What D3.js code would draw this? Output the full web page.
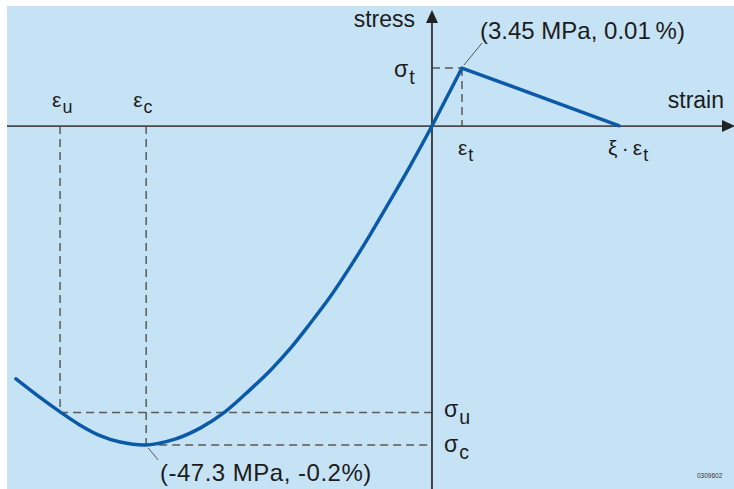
<!DOCTYPE html>
<html>
<head>
<meta charset="utf-8">
<script src="https://cdn.jsdelivr.net/npm/d3@7"></script>
<style>
  body { margin: 0; background: #fff; }
  svg { display: block; font-family: "Liberation Sans", Arial, sans-serif; }
</style>
</head>
<body>
<svg id="chart" width="734" height="489"></svg>
<script>
// schematic units: strain in multiples of eps_t, stress in multiples of sigma_t
const epsT = 1, sigT = 1, xiEpsT = 6.27;
const epsC = -9.53, sigC = -5.5;
const epsU = -12.4, sigU = -4.94;

// tension branch: origin -> peak -> softening end
const tensionStrain = [0, epsT, xiEpsT];
const tensionStress = [0, sigT, 0];

// compression branch, from origin going left
const compStrain = [0, -0.73, -1.4, -2.07, -2.73, -3.4, -4.07, -4.73, -5.4, -6.07, -6.9, -7.73, -8.57, -9.53, -10.4, -11.07, -11.73, -12.4, -13.07, -13.87];
const compStress = [0, -0.69, -1.29, -1.88, -2.43, -2.95, -3.41, -3.84, -4.22, -4.55, -4.93, -5.21, -5.4, -5.5, -5.45, -5.34, -5.16, -4.93, -4.68, -4.36];

const svg = d3.select("#chart");
const W = 734, H = 489;

const x = d3.scaleLinear().domain([-14.17, 10.07]).range([7, 734]);
const y = d3.scaleLinear().domain([2.07, -6.26]).range([6, 489]);

// background panel
svg.append("rect")
  .attr("x", 7).attr("y", 6)
  .attr("width", W - 7).attr("height", H - 6)
  .attr("fill", "#c6e3f6")

const axisCol = "#4a4a4a";
const dashCol = "#5a5a5a";
const textCol = "#1c1c1c";

// dashed guide lines
const guides = [
  [[0, sigT], [epsT, sigT]],
  [[epsT, sigT], [epsT, 0]],
  [[epsU, 0], [epsU, sigU]],
  [[epsU, sigU], [0, sigU]],
  [[epsC, 0], [epsC, sigC]],
  [[epsC, sigC], [0, sigC]]
];
guides.forEach((g) => {
  svg.append("line")
    .attr("x1", x(g[0][0])).attr("y1", y(g[0][1]))
    .attr("x2", x(g[1][0])).attr("y2", y(g[1][1]))
    .attr("stroke", dashCol)
    .attr("stroke-width", 1.5)
    .attr("stroke-dasharray", "8,5")
})

// axes
const x0 = x(0), y0 = y(0);
svg.append("line")
  .attr("x1", 7).attr("y1", y0).attr("x2", 724).attr("y2", y0)
  .attr("stroke", axisCol).attr("stroke-width", 1.8)
svg.append("line")
  .attr("x1", x0).attr("y1", H).attr("x2", x0).attr("y2", 20)
  .attr("stroke", "#333").attr("stroke-width", 1.8)

svg.append("path")
  .attr("d", `M${x0},10 L${x0 - 6},23 L${x0 + 6},23 Z`)
  .attr("fill", "#222")
svg.append("path")
  .attr("d", `M735,${y0} L722,${y0 - 6} L722,${y0 + 6} Z`)
  .attr("fill", "#222")

// curves
const blue = "#0b5aa8";

svg.append("path")
  .datum(compStrain.map((s, i) => [s, compStress[i]]))
  .attr("d", d3.line().x(d => x(d[0])).y(d => y(d[1])).curve(d3.curveCatmullRom))
  .attr("fill", "none")
  .attr("stroke", blue)
  .attr("stroke-width", 3.5)
  .attr("stroke-linecap", "round")

svg.append("path")
  .datum(tensionStrain.map((s, i) => [s, tensionStress[i]]))
  .attr("d", d3.line().x(d => x(d[0])).y(d => y(d[1])))
  .attr("fill", "none")
  .attr("stroke", blue)
  .attr("stroke-width", 3.5)
  .attr("stroke-linejoin", "round")

// leader lines for annotations
svg.append("line")
  .attr("x1", x(epsT) + 2).attr("y1", y(sigT) - 3)
  .attr("x2", x(epsT) + 20).attr("y2", y(sigT) - 25)
  .attr("stroke", "#555").attr("stroke-width", 1)
svg.append("line")
  .attr("x1", x(epsC) + 2).attr("y1", y(sigC) + 3)
  .attr("x2", x(epsC) + 12).attr("y2", y(sigC) + 15)
  .attr("stroke", "#555").attr("stroke-width", 1)

// text helper: symbol with subscript
function symbol(sx, sy, main, sub, size) {
  const t = svg.append("text")
    .attr("x", sx).attr("y", sy)
    .attr("font-size", size)
    .attr("fill", textCol)
  t.append("tspan").text(main)
  t.append("tspan")
    .attr("dx", 1)
    .attr("dy", size * 0.3)
    .attr("font-size", size * 0.85)
    .text(sub)
}

svg.append("text")
  .attr("x", 415).attr("y", 27)
  .attr("text-anchor", "end")
  .attr("font-size", 23)
  .attr("fill", textCol)
  .text("stress")
svg.append("text")
  .attr("x", 724).attr("y", 108)
  .attr("text-anchor", "end")
  .attr("font-size", 23)
  .attr("fill", textCol)
  .text("strain")

svg.append("text")
  .attr("x", 480).attr("y", 39)
  .attr("font-size", 24)
  .attr("fill", textCol)
  .text("(3.45 MPa, 0.01\u2009%)")
svg.append("text")
  .attr("x", 160).attr("y", 481)
  .attr("font-size", 24)
  .attr("letter-spacing", 0.5)
  .attr("fill", textCol)
  .text("(-47.3 MPa, -0.2%)")

symbol(394, 77, "\u03c3", "t", 23)
symbol(x(epsT) - 4, 155, "\u03b5", "t", 21)
symbol(x(xiEpsT) - 12, 155, "\u03be\u2009\u00b7\u2009\u03b5", "t", 21)
symbol(x(epsU) - 8, 107, "\u03b5", "u", 21)
symbol(x(epsC) - 13, 107, "\u03b5", "c", 21)
symbol(444, 417, "\u03c3", "u", 23)
symbol(444, 452, "\u03c3", "c", 23)

svg.append("text")
  .attr("x", 697).attr("y", 478)
  .attr("font-size", 6.5)
  .attr("fill", "#333")
  .text("0309602")
</script>
</body>
</html>
